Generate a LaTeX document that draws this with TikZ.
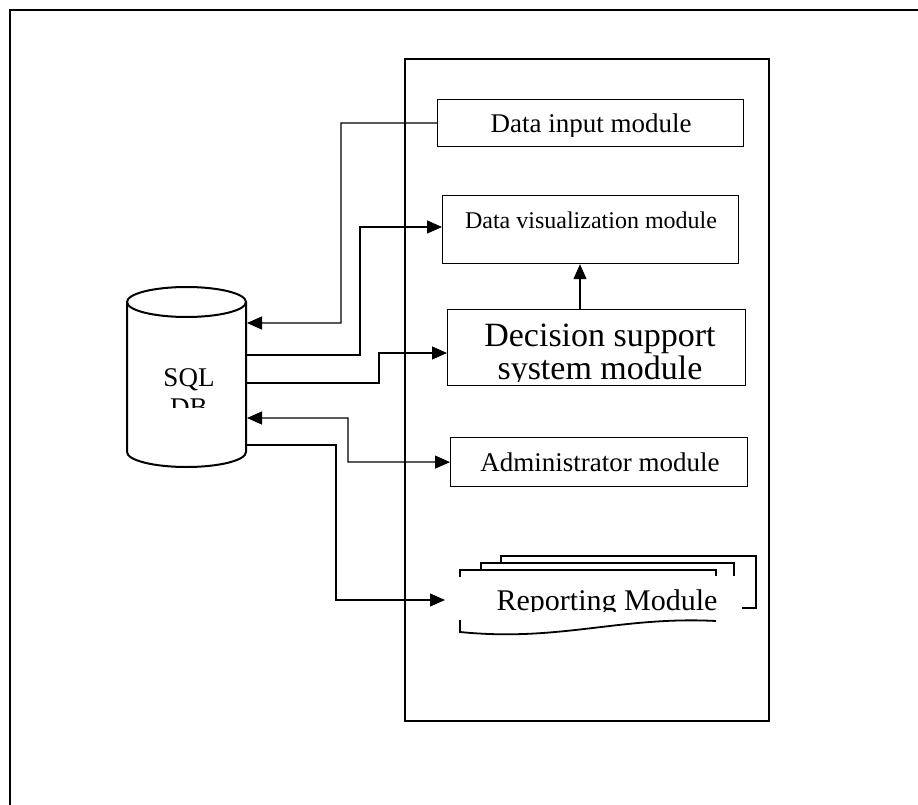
\documentclass[tikz,border=0pt]{standalone}
\usepackage{fontspec}
\setmainfont{Liberation Serif}
\usetikzlibrary{arrows.meta,calc}
\begin{document}
\begin{tikzpicture}[x=1pt,y=-1pt,
  conn/.style={line width=1.2pt,-{Triangle[length=15pt,width=13pt]}},
  connb/.style={line width=1.2pt,{Triangle[length=15pt,width=13pt]}-{Triangle[length=15pt,width=13pt]}},
  connr/.style={line width=1.2pt,{Triangle[length=15pt,width=13pt]}-},
  modbox/.style={draw,line width=1.2pt,anchor=north west,inner sep=0pt},
  txt/.style={font=\fontsize{27}{31}\selectfont,anchor=base,inner sep=0pt},
  thick frame/.style={line width=2.4pt}]
\useasboundingbox (0,0) rectangle (918,805);
% outer frame
\draw[thick frame] (10,805) -- (10,10) -- (918,10);
% container
\node[draw,line width=2.4pt,anchor=north west,minimum width=364pt,minimum height=662pt,inner sep=0pt] (cont) at (404,58) {};
% module boxes
\node[modbox,minimum width=306pt,minimum height=47pt] (din) at (437,99) {};
\node[modbox,minimum width=296pt,minimum height=68pt] (dv) at (442,195) {};
\node[modbox,minimum width=298pt,minimum height=76pt] (dss) at (447,309) {};
\node[modbox,minimum width=297pt,minimum height=49pt] (adm) at (450,437) {};
% texts (clipped like the original text boxes)
\begin{scope}
\clip (437,99) rectangle (743,137);
\node[txt] (tdin) at (591,133) {Data input module};
\end{scope}
\node[txt,font=\fontsize{24}{28}\selectfont] (tdv) at (591,229) {Data visualization module};
\begin{scope}
\clip (447,309) rectangle (745,381);
\node[txt,font=\fontsize{34}{38}\selectfont] (tdss1) at (600,346) {Decision support};
\node[txt,font=\fontsize{34}{38}\selectfont] (tdss2) at (600,379) {system module};
\end{scope}
\node[txt] (tadm) at (600,471) {Administrator module};
% reporting multidocument
\draw[line width=1.8pt] (501,563) -- (501,556) -- (756,556) -- (756,608) -- (742,608);
\draw[line width=1.8pt] (481,570) -- (481,563) -- (734,563) -- (734,576);
\draw[line width=1.8pt] (460,577) -- (460,570) -- (716,570) -- (716,576);
\draw[line width=1.8pt] (460,620) -- (460,632) .. controls (560,642) and (620,616) .. (716,621);
\coordinate (rep) at (445,600);
\begin{scope}
\clip (455,577) rectangle (742,611);
\node[txt,font=\fontsize{30}{34}\selectfont] (trep) at (607,610) {Reporting Module};
\end{scope}
% cylinder
\draw[line width=2pt,fill=white] (127,302) -- (127,452) arc[start angle=180,end angle=360,x radius=59.5pt,y radius=15pt] -- (246,302);
\draw[line width=2pt] (186.5,302) ellipse[x radius=59.5pt,y radius=15pt];
\coordinate (db) at (247,380);
\begin{scope}
\clip (127,318) rectangle (246,407);
\node[txt] (tsql) at (189,386) {SQL};
\node[txt] (tdb) at (189,416) {DB};
\end{scope}
% connectors
\draw[connr] (db |- 0,323) -| (341,123) -- (din.west);
\draw[conn] (db |- 0,355) -| (360,227) -- (dv.west |- 0,227);
\draw[conn] (db |- 0,383) -| (379,353) -- (dss.west |- 0,353);
\draw[connb] (db |- 0,418) -| (348,462) -- (adm.west);
\draw[conn] (db |- 0,445) -| (336,600) -- (rep);
\draw[conn] (dss.north -| 580,0) -- (dv.south -| 580,0);
\end{tikzpicture}
\end{document}
